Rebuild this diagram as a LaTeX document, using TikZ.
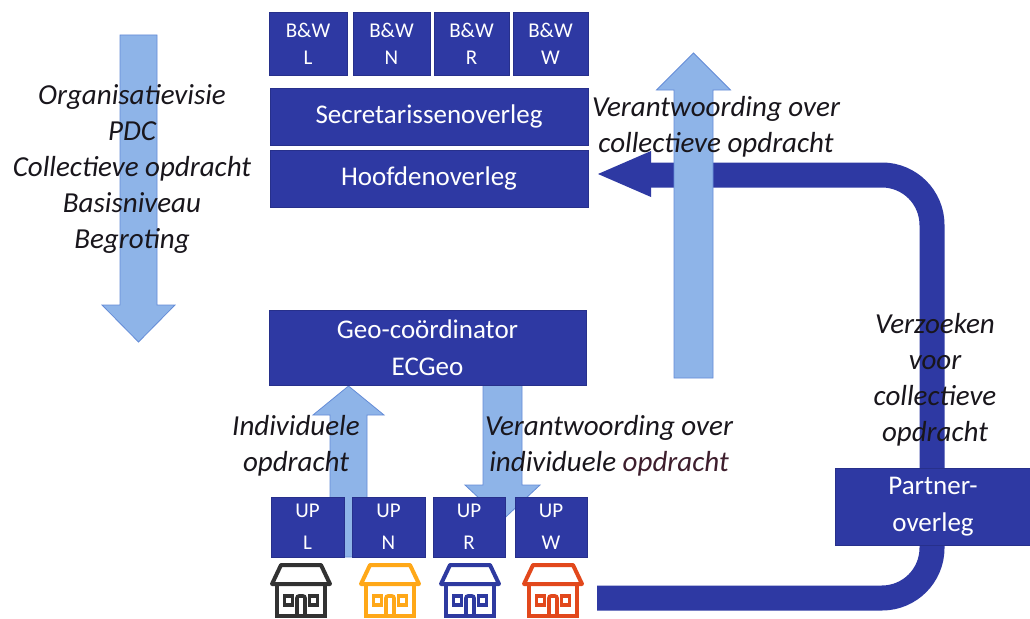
\documentclass[tikz,border=0pt]{standalone}
\usepackage{fontspec}
\setmainfont{Carlito}
\definecolor{boxblue}{RGB}{46,57,163}
\definecolor{lightarrow}{RGB}{142,180,232}
\definecolor{lightedge}{RGB}{100,140,215}
\definecolor{labeltext}{RGB}{25,22,28}
\definecolor{maroon}{RGB}{62,30,45}
\definecolor{hblack}{RGB}{50,50,50}
\definecolor{hyellow}{RGB}{255,168,24}
\definecolor{hblue}{RGB}{46,58,160}
\definecolor{hred}{RGB}{226,72,28}
\newcommand\blockarrowv[6]{%
  \filldraw[larrow] (#1-#2,#4) -- (#1-#2,#5) -- (#1-#3,#5) -- (#1,#6) -- (#1+#3,#5) -- (#1+#2,#5) -- (#1+#2,#4) -- cycle;}
\tikzset{
  pics/house/.style={code={
    \draw[#1,line width=4,line join=round] (9,0) -- (49,0) -- (58,19) -- (0,19) -- cycle;
    \draw[#1,line width=4] (5,19) rectangle (53,51);
    \draw[#1,line width=3.6] (12.5,31) rectangle (20.5,40);
    \draw[#1,line width=3.6] (37.5,31) rectangle (45.5,40);
    \draw[#1,line width=3.6,rounded corners=2] (25,51) -- (25,31) -- (33,31) -- (33,51);
  }}
}
\begin{document}
\begin{tikzpicture}[x=1pt,y=-1pt,
  box/.style={fill=boxblue, draw=boxblue!85!black, line width=0.6, text=white, inner sep=0, align=center},
  bw/.style={box, font=\fontsize{21}{27}\selectfont},
  up/.style={box, font=\fontsize{21}{32}\selectfont},
  big/.style={box, font=\fontsize{27}{37}\selectfont},
  larrow/.style={fill=lightarrow, draw=lightedge, line width=0.8},
  lbl/.style={inner sep=0, align=center, text=labeltext, font=\fontsize{29}{36}\selectfont\itshape}]
\useasboundingbox (0,0) rectangle (1030,618);
\fill[white] (0,0) rectangle (1030,618);

% dark return arrow
\draw[boxblue, line width=25, rounded corners=50] (597,598) -- (932,598) -- (932,175) -- (650,175);
\fill[boxblue] (651,151) -- (598,174) -- (651,197) -- cycle;

% light block arrows
\blockarrowv{138.5}{18.5}{36.5}{35}{305}{342}
\blockarrowv{693.5}{19.5}{37}{378}{90}{53}
\blockarrowv{348.5}{18.5}{35.5}{557}{415}{386}
\blockarrowv{502.5}{19.5}{37.5}{385}{485}{520}

% boxes
\node[bw, minimum width=78, minimum height=63] (bwl) at (308,43.5) {B\&W\\L};
\node[bw, minimum width=77, minimum height=63] (bwn) at (391.5,43.5) {B\&W\\N};
\node[bw, minimum width=75, minimum height=63] (bwr) at (471.5,43.5) {B\&W\\R};
\node[bw, minimum width=75, minimum height=63] (bww) at (550.5,43.5) {B\&W\\W};
\node[big, minimum width=318, minimum height=57] (secr) at (429,116.5) {Secretarissenoverleg};
\node[big, minimum width=318, minimum height=57] (hoofd) at (429,178.5) {Hoofdenoverleg};
\node[big, minimum width=317, minimum height=75] (geo) at (427.5,347.5) {Geo-coördinator\\ECGeo};
\node[up, minimum width=73, minimum height=60] (upl) at (307.5,527) {UP\\L};
\node[up, minimum width=73, minimum height=60] (upn) at (388.5,527) {UP\\N};
\node[up, minimum width=72, minimum height=60] (upr) at (469,527) {UP\\R};
\node[up, minimum width=72, minimum height=60] (upw) at (551,527) {UP\\W};
\node[big, minimum width=196, minimum height=77] (partner) at (933,506.5) {Partner-\\overleg};

% houses
\pic at (272,565) {house=hblack};
\pic at (361,565) {house=hyellow};
\pic at (441,565) {house=hblue};
\pic at (524,565) {house=hred};

% labels
\node[lbl] (lleft) at (132,169) {Organisatievisie\\PDC\\Collectieve opdracht\\Basisniveau\\Begroting};
\node[lbl] (lcoll) at (716,127) {Verantwoording over\\collectieve opdracht};
\node[lbl] (lverz) at (935,380) {Verzoeken\\voor\\collectieve\\opdracht};
\node[lbl] (lind) at (296,446) {Individuele\\opdracht};
\node[lbl] (lvind) at (609,446) {Verantwoording over\\individuele \textcolor{maroon}{opdracht}};
\end{tikzpicture}
\end{document}
